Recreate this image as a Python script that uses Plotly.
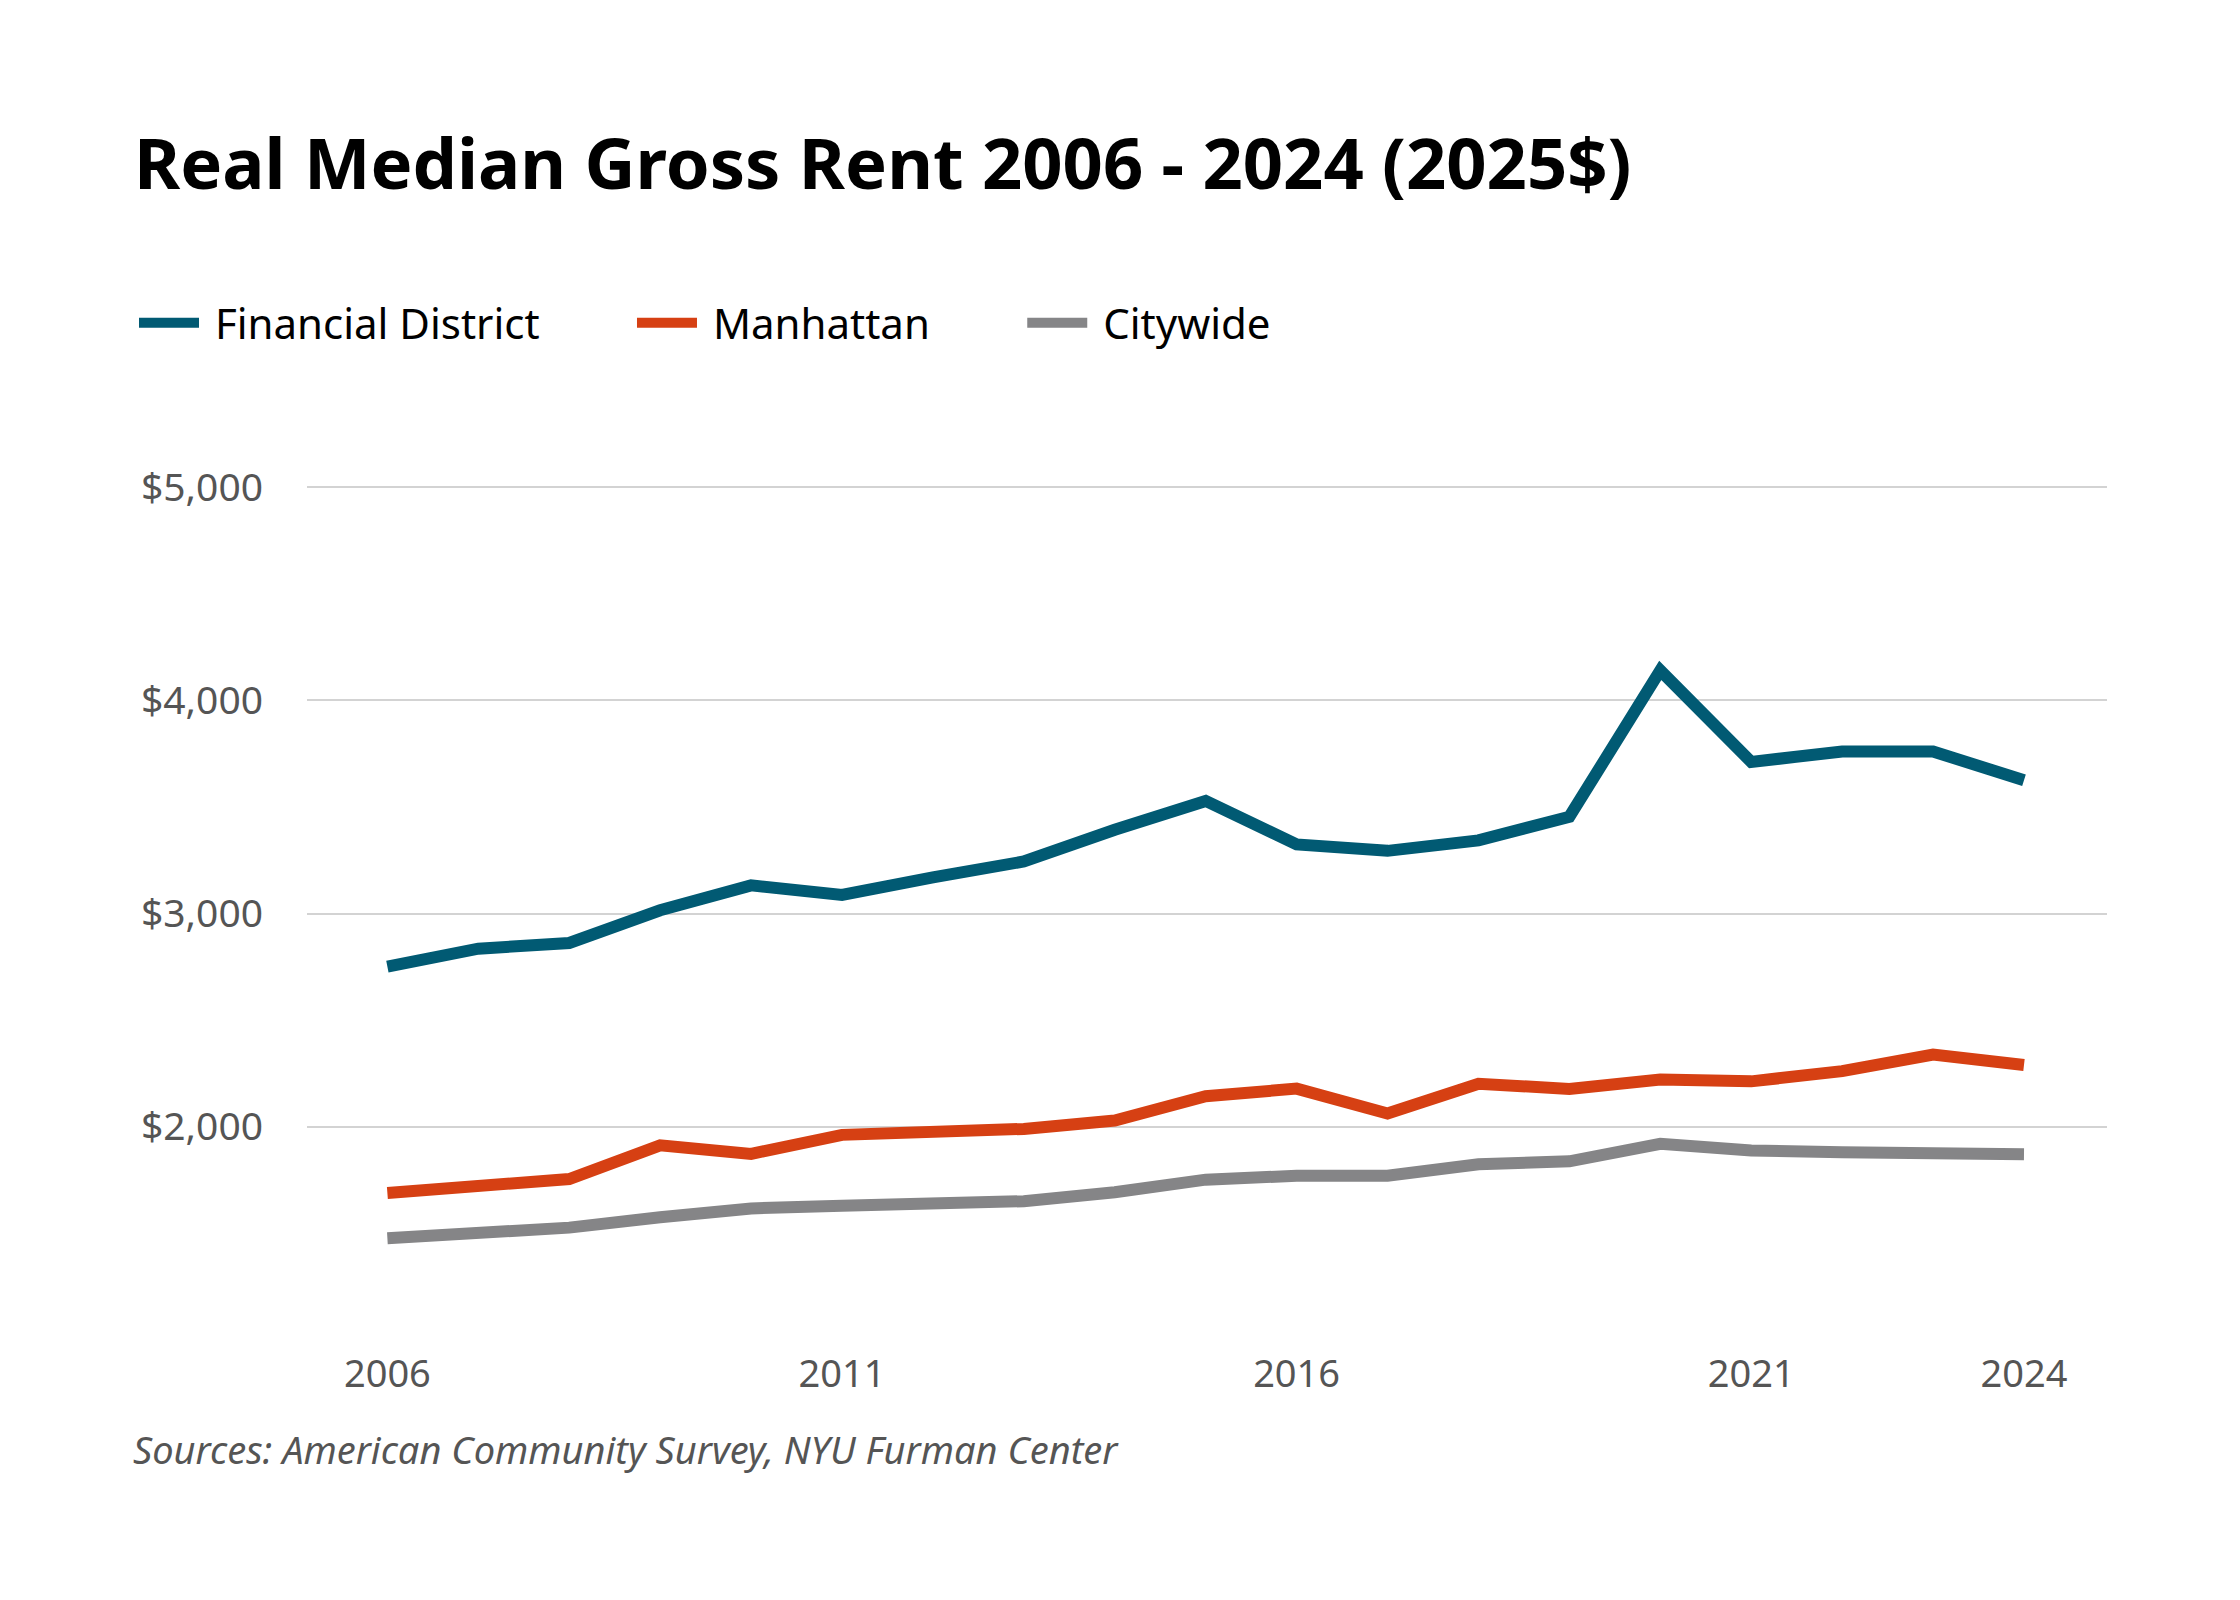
import plotly.graph_objects as go

# data (2025 dollars)
years = list(range(2006, 2025))
financial_district = [2751, 2835, 2862, 3015, 3132, 3087, 3170, 3244, 3393, 3528,
                      3324, 3294, 3343, 3454, 4140, 3711, 3760, 3760, 3625]
manhattan = [1689, 1729, 1755, 1913, 1873, 1962, 1981, 1990, 2029, 2143,
             2179, 2062, 2202, 2177, 2222, 2213, 2261, 2339, 2290]
citywide = [1477, 1499, 1527, 1576, 1617, 1630, 1639, 1651, 1693, 1752,
            1770, 1770, 1824, 1838, 1920, 1889, 1880, 1880, 1871]

series_names = ['Financial District', 'Manhattan', 'Citywide']
x_ticks = [2006, 2011, 2016, 2021, 2024]
y_ticks = [2000, 3000, 4000, 5000]
y_tick_labels = ['$2,000', '$3,000', '$4,000', '$5,000']

COLOURS = ['#015a73', '#d64013', '#858587']
LINE_WIDTH = 12
GRID_COLOR = '#d3d3d3'
TICK_COLOR = '#555555'
NBSP = '\u00a0'

# plot area in pixels
LEFT, RIGHT, TOP, BOTTOM = 299, 2099, 478, 1332
PW, PH = RIGHT - LEFT, BOTTOM - TOP

fig = go.Figure()
for name, values, colour in zip(series_names, [financial_district, manhattan, citywide], COLOURS):
    # padding with no-break spaces spreads the legend entries like the original
    fig.add_trace(go.Scatter(x=years, y=values, mode='lines', name=NBSP + name + NBSP * 8,
                             line=dict(color=colour, width=LINE_WIDTH)))

fig.update_layout(
    width=2240,
    height=1600,
    autosize=False,
    paper_bgcolor='white',
    plot_bgcolor='white',
    margin=dict(l=LEFT, r=2240 - RIGHT, t=TOP, b=1600 - BOTTOM),
    font=dict(family='Noto Sans', color=TICK_COLOR),
    title=dict(
        text='Real Median Gross Rent 2006 - 2024 (2025$)',
        x=126 / 2240, xanchor='left', xref='container',
        y=1 - 156 / 1600, yanchor='middle', yref='container',
        font=dict(family='Noto Sans', size=70.5, color='black', weight=700),
    ),
    legend=dict(
        orientation='h',
        x=(126 - LEFT) / PW, xanchor='left',
        y=(BOTTOM - 315) / PH, yanchor='middle',
        font=dict(family='Noto Sans', size=42, color='black'),
        itemwidth=60,
        bgcolor='rgba(0,0,0,0)',
    ),
    showlegend=True,
)

fig.update_xaxes(
    range=[2005.116, 2024.913],
    tickmode='array',
    tickvals=x_ticks,
    ticktext=[str(t) for t in x_ticks],
    showgrid=False,
    zeroline=False,
    showline=False,
    ticks='',
    ticklabelstandoff=8,
    tickfont=dict(family='Noto Sans', size=38, color=TICK_COLOR),
)

fig.update_yaxes(
    range=[1000, 5005],
    tickmode='array',
    tickvals=y_ticks,
    ticktext=y_tick_labels,
    showgrid=True,
    gridcolor=GRID_COLOR,
    gridwidth=2,
    zeroline=False,
    showline=False,
    ticks='',
    ticklabelstandoff=43,
    tickfont=dict(family='Noto Sans', size=39, color=TICK_COLOR),
)

fig.add_annotation(
    text='Sources: American Community Survey, NYU Furman Center',
    xref='paper', yref='paper',
    x=(123 - LEFT) / PW, xanchor='left',
    y=(BOTTOM - 1441) / PH, yanchor='middle',
    showarrow=False,
    font=dict(family='Noto Sans', size=38, color=TICK_COLOR, style='italic'),
)

fig.write_html("out.html")
